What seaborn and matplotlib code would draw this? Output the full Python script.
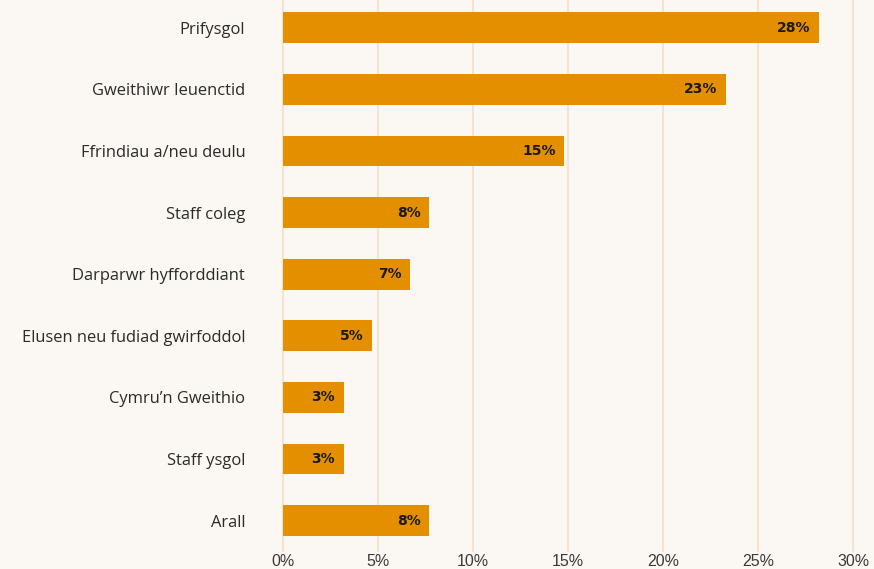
import matplotlib
matplotlib.use("Agg")
import matplotlib.pyplot as plt
import seaborn as sns
import pandas as pd

categories = [
    "Prifysgol",
    "Gweithiwr Ieuenctid",
    "Ffrindiau a/neu deulu",
    "Staff coleg",
    "Darparwr hyfforddiant",
    "Elusen neu fudiad gwirfoddol",
    "Cymru\u2019n Gweithio",
    "Staff ysgol",
    "Arall",
]
values = [28.2, 23.3, 14.8, 7.7, 6.7, 4.7, 3.2, 3.2, 7.7]
x_ticks = [0, 5, 10, 15, 20, 25, 30]

bg = "#FBF7F2"
bar_color = "#E38F00"
grid_color = "#F3E3D3"

sns.set_theme(style="white")
plt.rcParams["font.family"] = ["Open Sans", "DejaVu Sans"]

df = pd.DataFrame({"category": categories, "value": values})

fig = plt.figure(figsize=(8.74, 5.69), dpi=100, facecolor=bg)
ax = fig.add_axes([282.7 / 874, 17.7 / 569, (853.3 - 282.7) / 874, 551.3 / 569])
ax.set_facecolor(bg)

sns.barplot(data=df, x="value", y="category", orient="h", color=bar_color,
            saturation=1, width=0.5, linewidth=0, ax=ax, zorder=3)

ax.set_xlim(0, 30)
ax.set_ylim(8.5, -0.45)
ax.set_xticks(x_ticks)
ax.set_xticklabels([f"{t}%" for t in x_ticks], family="Liberation Sans",
                   fontsize=11.5, color="#3a3a3a")
ax.set_yticks(range(len(categories)))
ax.set_yticklabels(categories, fontsize=11.9, color="#2b2b2b")
ax.tick_params(axis="y", length=0, pad=27)
ax.tick_params(axis="x", length=0, pad=2)
ax.set_xlabel("")
ax.set_ylabel("")
for s in ax.spines.values():
    s.set_visible(False)

for t in x_ticks:
    ax.axvline(t, color=grid_color, lw=1.5, zorder=1, clip_on=False)

for i, v in enumerate(values):
    ax.text(v - 0.45, i, f"{round(v):.0f}%", ha="right", va="center",
            fontsize=10, fontweight="bold", color="#1a1a1a",
            family="DejaVu Sans", zorder=4)

fig.savefig("out.png", dpi=100, facecolor=bg)
